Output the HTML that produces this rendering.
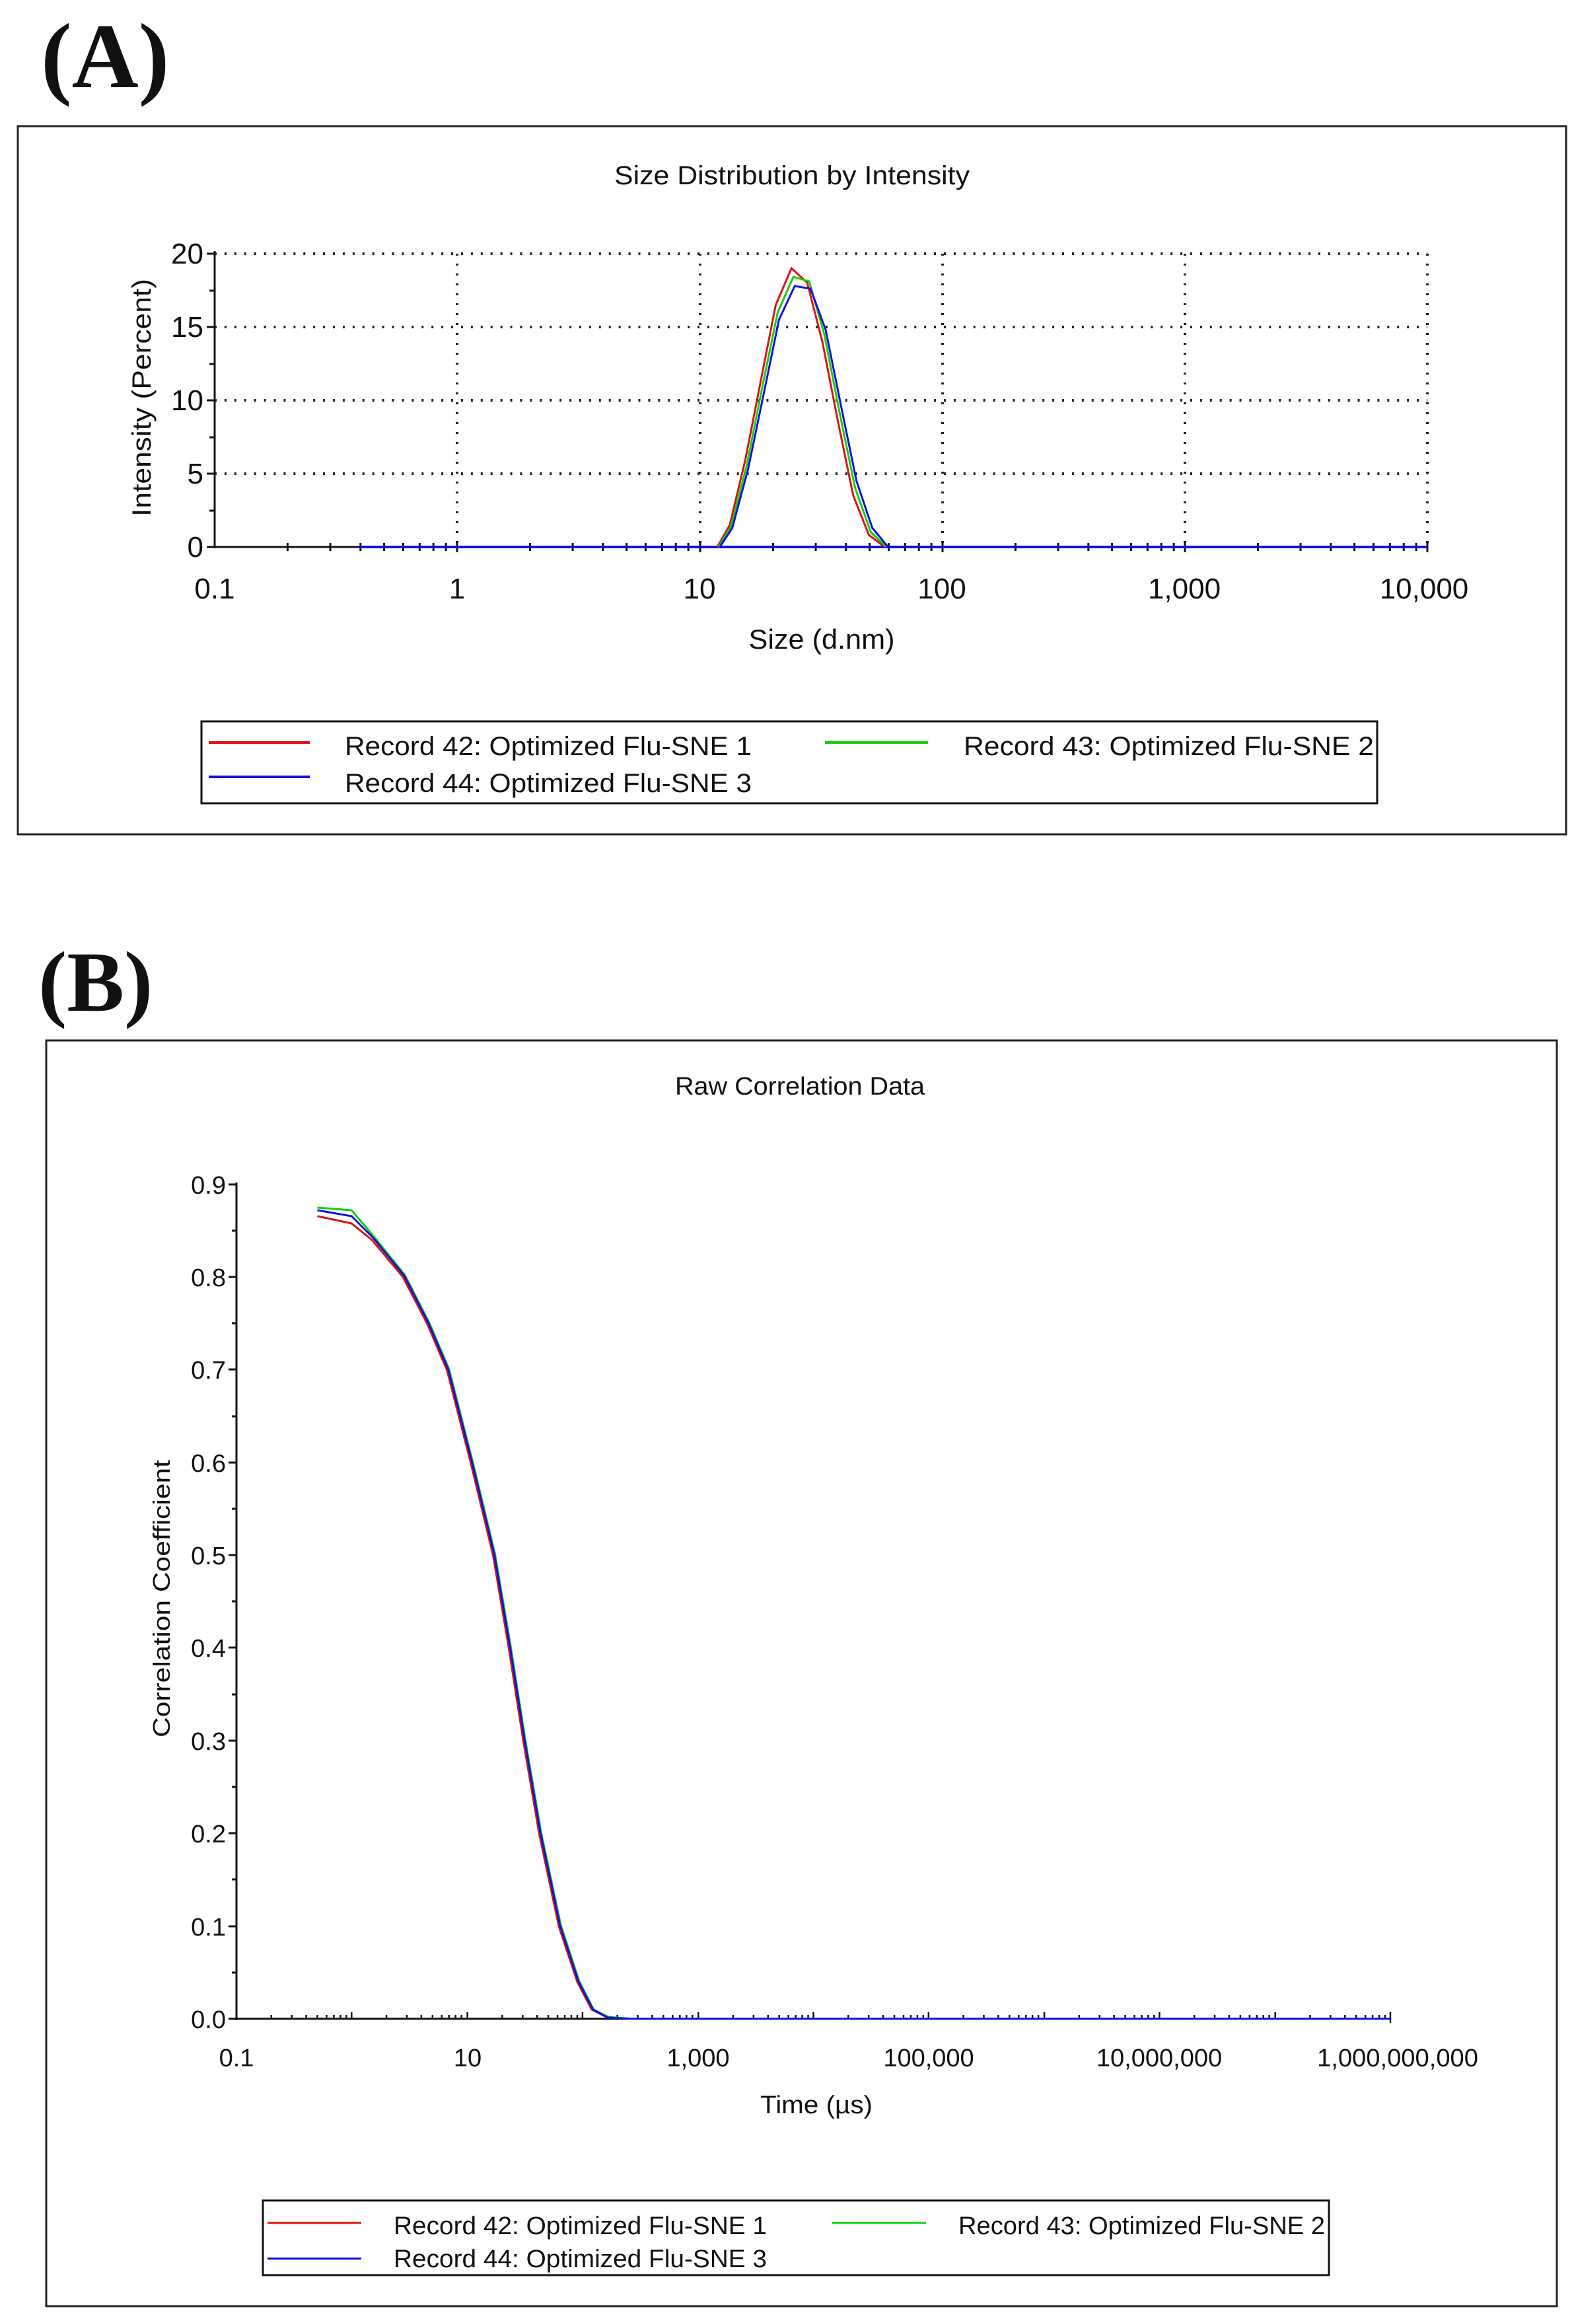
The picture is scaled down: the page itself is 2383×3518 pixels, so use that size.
<!DOCTYPE html>
<html><head><meta charset="utf-8"><style>
html,body{margin:0;padding:0;background:#fff;}
svg{display:block;}
text{font-family:"Liberation Sans",Arial,sans-serif;fill:#111;}
.big{font-family:"Liberation Serif","Times New Roman",serif;font-weight:bold;}
</style></head><body>
<svg width="2383" height="3518" viewBox="0 0 2383 3518" xmlns="http://www.w3.org/2000/svg">
<rect width="2383" height="3518" fill="#fff"/>
<!-- ===== Panel A ===== -->
<text class="big" x="62" y="132" font-size="140">(A)</text>
<rect x="27" y="191" width="2344" height="1072" fill="none" stroke="#222" stroke-width="3"/>
<text x="1199" y="279" font-size="40" text-anchor="middle" textLength="538" lengthAdjust="spacingAndGlyphs">Size Distribution by Intensity</text>
<g transform="translate(325,0) scale(0.99458,1) translate(-325,0)">
<g stroke="#222" stroke-width="4" stroke-dasharray="3 12" fill="none">
<line x1="325" y1="384" x2="2171" y2="384"/>
<line x1="325" y1="495" x2="2171" y2="495"/>
<line x1="325" y1="606" x2="2171" y2="606"/>
<line x1="325" y1="717" x2="2171" y2="717"/>
<line x1="694" y1="384" x2="694" y2="828"/>
<line x1="1064" y1="384" x2="1064" y2="828"/>
<line x1="1433" y1="384" x2="1433" y2="828"/>
<line x1="1802" y1="384" x2="1802" y2="828"/>
<line x1="2171" y1="384" x2="2171" y2="828"/>
</g>
<g stroke="#111" stroke-width="3">
<line x1="325" y1="380" x2="325" y2="830"/>
<line x1="325" y1="828" x2="2171" y2="828"/>
<line x1="313" y1="384" x2="325" y2="384"/><line x1="317" y1="440" x2="325" y2="440"/>
<line x1="313" y1="495" x2="325" y2="495"/><line x1="317" y1="551" x2="325" y2="551"/>
<line x1="313" y1="606" x2="325" y2="606"/><line x1="317" y1="662" x2="325" y2="662"/>
<line x1="313" y1="717" x2="325" y2="717"/><line x1="317" y1="773" x2="325" y2="773"/>
<line x1="313" y1="828" x2="325" y2="828"/>
</g>
<g stroke="#111" stroke-width="3">
<line x1="436" y1="822" x2="436" y2="834"/><line x1="501" y1="822" x2="501" y2="834"/><line x1="547" y1="822" x2="547" y2="834"/><line x1="583" y1="822" x2="583" y2="834"/><line x1="612" y1="822" x2="612" y2="834"/><line x1="637" y1="822" x2="637" y2="834"/><line x1="658" y1="822" x2="658" y2="834"/><line x1="677" y1="822" x2="677" y2="834"/><line x1="694" y1="820" x2="694" y2="836"/>
<line x1="805" y1="822" x2="805" y2="834"/><line x1="870" y1="822" x2="870" y2="834"/><line x1="916" y1="822" x2="916" y2="834"/><line x1="952" y1="822" x2="952" y2="834"/><line x1="981" y1="822" x2="981" y2="834"/><line x1="1006" y1="822" x2="1006" y2="834"/><line x1="1027" y1="822" x2="1027" y2="834"/><line x1="1046" y1="822" x2="1046" y2="834"/><line x1="1064" y1="820" x2="1064" y2="836"/>
<line x1="1175" y1="822" x2="1175" y2="834"/><line x1="1240" y1="822" x2="1240" y2="834"/><line x1="1286" y1="822" x2="1286" y2="834"/><line x1="1322" y1="822" x2="1322" y2="834"/><line x1="1351" y1="822" x2="1351" y2="834"/><line x1="1376" y1="822" x2="1376" y2="834"/><line x1="1397" y1="822" x2="1397" y2="834"/><line x1="1416" y1="822" x2="1416" y2="834"/><line x1="1433" y1="820" x2="1433" y2="836"/>
<line x1="1544" y1="822" x2="1544" y2="834"/><line x1="1609" y1="822" x2="1609" y2="834"/><line x1="1655" y1="822" x2="1655" y2="834"/><line x1="1691" y1="822" x2="1691" y2="834"/><line x1="1720" y1="822" x2="1720" y2="834"/><line x1="1745" y1="822" x2="1745" y2="834"/><line x1="1766" y1="822" x2="1766" y2="834"/><line x1="1785" y1="822" x2="1785" y2="834"/><line x1="1802" y1="820" x2="1802" y2="836"/>
<line x1="1913" y1="822" x2="1913" y2="834"/><line x1="1978" y1="822" x2="1978" y2="834"/><line x1="2024" y1="822" x2="2024" y2="834"/><line x1="2060" y1="822" x2="2060" y2="834"/><line x1="2089" y1="822" x2="2089" y2="834"/><line x1="2114" y1="822" x2="2114" y2="834"/><line x1="2135" y1="822" x2="2135" y2="834"/><line x1="2154" y1="822" x2="2154" y2="834"/><line x1="2171" y1="820" x2="2171" y2="836"/>
</g>
<line x1="546" y1="828" x2="2171" y2="828" stroke="#1010e0" stroke-width="4"/>
<polyline fill="none" stroke="#e01010" stroke-width="3" points="1090,828 1109,795 1133,695 1157,573 1179,462 1203,406 1227,428 1250,517 1274,639 1297,750 1321,810 1345,828"/>
<polyline fill="none" stroke="#10d010" stroke-width="3" points="1092,828 1111,797 1135,704 1159,584 1182,473 1206,419 1230,426 1253,506 1277,628 1300,739 1324,806 1348,828"/>
<polyline fill="none" stroke="#1010e0" stroke-width="3" points="1094,828 1113,799 1137,710 1161,595 1184,484 1208,433 1232,437 1255,499 1279,617 1302,728 1326,799 1350,828"/>
</g>
<g font-size="44" text-anchor="end">
<text x="308" y="399">20</text><text x="308" y="510">15</text><text x="308" y="621">10</text><text x="308" y="732">5</text><text x="308" y="843">0</text>
</g>
<g font-size="44" text-anchor="middle">
<text x="325" y="906">0.1</text><text x="692" y="906">1</text><text x="1059" y="906">10</text><text x="1426" y="906">100</text><text x="1793" y="906">1,000</text><text x="2156" y="906">10,000</text>
</g>
<text x="1244" y="982" font-size="42" text-anchor="middle" textLength="221" lengthAdjust="spacingAndGlyphs">Size (d.nm)</text>
<text transform="translate(228,602) rotate(-90)" font-size="40" text-anchor="middle" textLength="360" lengthAdjust="spacingAndGlyphs">Intensity (Percent)</text>
<!-- legend A -->
<rect x="305" y="1092" width="1780" height="124" fill="none" stroke="#111" stroke-width="3"/>
<line x1="316" y1="1124" x2="469" y2="1124" stroke="#e01010" stroke-width="4"/>
<line x1="316" y1="1176" x2="469" y2="1176" stroke="#1010e0" stroke-width="4"/>
<line x1="1249" y1="1124" x2="1405" y2="1124" stroke="#10d010" stroke-width="4"/>
<g font-size="40">
<text x="522" y="1143" textLength="616" lengthAdjust="spacingAndGlyphs">Record 42: Optimized Flu-SNE 1</text>
<text x="522" y="1199" textLength="616" lengthAdjust="spacingAndGlyphs">Record 44: Optimized Flu-SNE 3</text>
<text x="1459" y="1143" textLength="621" lengthAdjust="spacingAndGlyphs">Record 43: Optimized Flu-SNE 2</text>
</g>
<!-- ===== Panel B ===== -->
<text class="big" x="58" y="1530" font-size="130">(B)</text>
<rect x="70" y="1575" width="2287" height="1916" fill="none" stroke="#222" stroke-width="3"/>
<text x="1211" y="1657" font-size="38" text-anchor="middle" textLength="378" lengthAdjust="spacingAndGlyphs">Raw Correlation Data</text>
<g stroke="#111" stroke-width="3">
<line x1="358" y1="1790" x2="358" y2="3058"/>
<line x1="346" y1="1793" x2="358" y2="1793"/><line x1="351" y1="1863" x2="358" y2="1863"/>
<line x1="346" y1="1933" x2="358" y2="1933"/><line x1="351" y1="2003" x2="358" y2="2003"/>
<line x1="346" y1="2073" x2="358" y2="2073"/><line x1="351" y1="2144" x2="358" y2="2144"/>
<line x1="346" y1="2214" x2="358" y2="2214"/><line x1="351" y1="2284" x2="358" y2="2284"/>
<line x1="346" y1="2354" x2="358" y2="2354"/><line x1="351" y1="2424" x2="358" y2="2424"/>
<line x1="346" y1="2494" x2="358" y2="2494"/><line x1="351" y1="2565" x2="358" y2="2565"/>
<line x1="346" y1="2635" x2="358" y2="2635"/><line x1="351" y1="2705" x2="358" y2="2705"/>
<line x1="346" y1="2775" x2="358" y2="2775"/><line x1="351" y1="2845" x2="358" y2="2845"/>
<line x1="346" y1="2916" x2="358" y2="2916"/><line x1="351" y1="2986" x2="358" y2="2986"/>
<line x1="346" y1="3056" x2="358" y2="3056"/>
</g>
<g transform="translate(358,0) scale(0.996,1) translate(-358,0)">
<line x1="358" y1="3056" x2="2112" y2="3056" stroke="#111" stroke-width="3"/>
<g stroke="#111" stroke-width="2.5">
<line x1="411" y1="3050" x2="411" y2="3056"/><line x1="442" y1="3050" x2="442" y2="3056"/><line x1="464" y1="3050" x2="464" y2="3056"/><line x1="481" y1="3050" x2="481" y2="3056"/><line x1="495" y1="3050" x2="495" y2="3056"/><line x1="506" y1="3050" x2="506" y2="3056"/><line x1="516" y1="3050" x2="516" y2="3056"/><line x1="525" y1="3050" x2="525" y2="3056"/><line x1="533" y1="3046" x2="533" y2="3056"/>
<line x1="586" y1="3050" x2="586" y2="3056"/><line x1="617" y1="3050" x2="617" y2="3056"/><line x1="639" y1="3050" x2="639" y2="3056"/><line x1="656" y1="3050" x2="656" y2="3056"/><line x1="670" y1="3050" x2="670" y2="3056"/><line x1="681" y1="3050" x2="681" y2="3056"/><line x1="691" y1="3050" x2="691" y2="3056"/><line x1="700" y1="3050" x2="700" y2="3056"/><line x1="709" y1="3046" x2="709" y2="3056"/>
<line x1="762" y1="3050" x2="762" y2="3056"/><line x1="793" y1="3050" x2="793" y2="3056"/><line x1="815" y1="3050" x2="815" y2="3056"/><line x1="832" y1="3050" x2="832" y2="3056"/><line x1="846" y1="3050" x2="846" y2="3056"/><line x1="857" y1="3050" x2="857" y2="3056"/><line x1="867" y1="3050" x2="867" y2="3056"/><line x1="876" y1="3050" x2="876" y2="3056"/><line x1="884" y1="3046" x2="884" y2="3056"/>
<line x1="937" y1="3050" x2="937" y2="3056"/><line x1="968" y1="3050" x2="968" y2="3056"/><line x1="990" y1="3050" x2="990" y2="3056"/><line x1="1007" y1="3050" x2="1007" y2="3056"/><line x1="1021" y1="3050" x2="1021" y2="3056"/><line x1="1032" y1="3050" x2="1032" y2="3056"/><line x1="1042" y1="3050" x2="1042" y2="3056"/><line x1="1051" y1="3050" x2="1051" y2="3056"/><line x1="1060" y1="3046" x2="1060" y2="3056"/>
<line x1="1113" y1="3050" x2="1113" y2="3056"/><line x1="1144" y1="3050" x2="1144" y2="3056"/><line x1="1166" y1="3050" x2="1166" y2="3056"/><line x1="1183" y1="3050" x2="1183" y2="3056"/><line x1="1197" y1="3050" x2="1197" y2="3056"/><line x1="1208" y1="3050" x2="1208" y2="3056"/><line x1="1218" y1="3050" x2="1218" y2="3056"/><line x1="1227" y1="3050" x2="1227" y2="3056"/><line x1="1235" y1="3046" x2="1235" y2="3056"/>
<line x1="1288" y1="3050" x2="1288" y2="3056"/><line x1="1319" y1="3050" x2="1319" y2="3056"/><line x1="1341" y1="3050" x2="1341" y2="3056"/><line x1="1358" y1="3050" x2="1358" y2="3056"/><line x1="1372" y1="3050" x2="1372" y2="3056"/><line x1="1383" y1="3050" x2="1383" y2="3056"/><line x1="1393" y1="3050" x2="1393" y2="3056"/><line x1="1402" y1="3050" x2="1402" y2="3056"/><line x1="1410" y1="3046" x2="1410" y2="3056"/>
<line x1="1463" y1="3050" x2="1463" y2="3056"/><line x1="1494" y1="3050" x2="1494" y2="3056"/><line x1="1516" y1="3050" x2="1516" y2="3056"/><line x1="1533" y1="3050" x2="1533" y2="3056"/><line x1="1547" y1="3050" x2="1547" y2="3056"/><line x1="1558" y1="3050" x2="1558" y2="3056"/><line x1="1568" y1="3050" x2="1568" y2="3056"/><line x1="1577" y1="3050" x2="1577" y2="3056"/><line x1="1586" y1="3046" x2="1586" y2="3056"/>
<line x1="1639" y1="3050" x2="1639" y2="3056"/><line x1="1670" y1="3050" x2="1670" y2="3056"/><line x1="1692" y1="3050" x2="1692" y2="3056"/><line x1="1709" y1="3050" x2="1709" y2="3056"/><line x1="1723" y1="3050" x2="1723" y2="3056"/><line x1="1734" y1="3050" x2="1734" y2="3056"/><line x1="1744" y1="3050" x2="1744" y2="3056"/><line x1="1753" y1="3050" x2="1753" y2="3056"/><line x1="1761" y1="3046" x2="1761" y2="3056"/>
<line x1="1814" y1="3050" x2="1814" y2="3056"/><line x1="1845" y1="3050" x2="1845" y2="3056"/><line x1="1867" y1="3050" x2="1867" y2="3056"/><line x1="1884" y1="3050" x2="1884" y2="3056"/><line x1="1898" y1="3050" x2="1898" y2="3056"/><line x1="1909" y1="3050" x2="1909" y2="3056"/><line x1="1919" y1="3050" x2="1919" y2="3056"/><line x1="1928" y1="3050" x2="1928" y2="3056"/><line x1="1937" y1="3046" x2="1937" y2="3056"/>
<line x1="1990" y1="3050" x2="1990" y2="3056"/><line x1="2021" y1="3050" x2="2021" y2="3056"/><line x1="2043" y1="3050" x2="2043" y2="3056"/><line x1="2060" y1="3050" x2="2060" y2="3056"/><line x1="2074" y1="3050" x2="2074" y2="3056"/><line x1="2085" y1="3050" x2="2085" y2="3056"/><line x1="2095" y1="3050" x2="2095" y2="3056"/><line x1="2104" y1="3050" x2="2104" y2="3056"/><line x1="2112" y1="3046" x2="2112" y2="3062"/>
</g>
<polyline fill="none" stroke="#e01010" stroke-width="3" stroke-linejoin="round" points="481,1841 533,1852 564,1877 611,1933 648,2004 678,2074 714,2214 748,2354 772,2495 794,2635 818,2775 848,2916 876,3000 898,3042 920,3053 954,3056 1940,3056"/>
<polyline fill="none" stroke="#10d010" stroke-width="3" stroke-linejoin="round" points="481,1828 533,1832 567,1872 614,1930 651,2002 681,2072 717,2212 751,2352 775,2493 797,2633 821,2773 851,2914 879,2999 901,3042 923,3053 957,3056 1940,3056"/>
<polyline fill="none" stroke="#1010e0" stroke-width="3" stroke-linejoin="round" points="481,1832 533,1841 566,1874 613,1931 650,2003 680,2073 716,2213 750,2353 774,2494 796,2634 820,2774 850,2915 878,3000 900,3042 922,3054 956,3056 2112,3056"/>
</g>
<g font-size="38" text-anchor="end">
<text x="342" y="1807">0.9</text><text x="342" y="1947">0.8</text><text x="342" y="2087">0.7</text><text x="342" y="2228">0.6</text><text x="342" y="2368">0.5</text><text x="342" y="2508">0.4</text><text x="342" y="2649">0.3</text><text x="342" y="2789">0.2</text><text x="342" y="2930">0.1</text><text x="342" y="3070">0.0</text>
</g>
<g font-size="38" text-anchor="middle">
<text x="358" y="3128">0.1</text><text x="708" y="3128">10</text><text x="1057" y="3128">1,000</text><text x="1406" y="3128">100,000</text><text x="1755" y="3128">10,000,000</text><text x="2116" y="3128" textLength="244" lengthAdjust="spacingAndGlyphs">1,000,000,000</text>
</g>
<text x="1236" y="3199" font-size="38" text-anchor="middle" textLength="170" lengthAdjust="spacingAndGlyphs">Time (µs)</text>
<text transform="translate(257,2420) rotate(-90)" font-size="36" text-anchor="middle" textLength="420" lengthAdjust="spacingAndGlyphs">Correlation Coefficient</text>
<!-- legend B -->
<rect x="398" y="3331" width="1614" height="113" fill="none" stroke="#111" stroke-width="3"/>
<line x1="405" y1="3365" x2="547" y2="3365" stroke="#e01010" stroke-width="3"/>
<line x1="405" y1="3419" x2="547" y2="3419" stroke="#1010e0" stroke-width="3"/>
<line x1="1260" y1="3365" x2="1402" y2="3365" stroke="#10d010" stroke-width="3"/>
<g font-size="38">
<text x="596" y="3382" textLength="565" lengthAdjust="spacingAndGlyphs">Record 42: Optimized Flu-SNE 1</text>
<text x="596" y="3432" textLength="565" lengthAdjust="spacingAndGlyphs">Record 44: Optimized Flu-SNE 3</text>
<text x="1451" y="3382" textLength="555" lengthAdjust="spacingAndGlyphs">Record 43: Optimized Flu-SNE 2</text>
</g>
</svg>
</body></html>
